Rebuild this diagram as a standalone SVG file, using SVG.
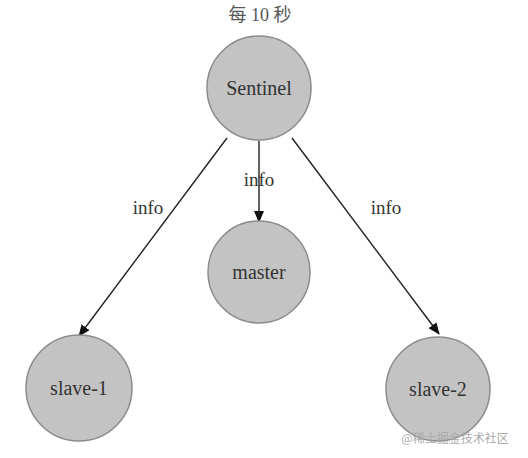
<svg xmlns="http://www.w3.org/2000/svg" width="528" height="458" viewBox="0 0 528 458">
<style>
.n{fill:#c3c3c3;stroke:#8c8c8c;stroke-width:1.5}
.t{font-family:"Liberation Serif",serif;font-size:20px;fill:#333;text-anchor:middle}
.e{stroke:#222;stroke-width:1.4;fill:none;marker-end:url(#a)}
.l{font-family:"Liberation Serif",serif;font-size:19px;fill:#333;text-anchor:middle}
</style>
<defs>
<marker id="a" markerWidth="12" markerHeight="10" refX="11" refY="5" orient="auto" markerUnits="userSpaceOnUse">
<path d="M0,0 L12,5 L0,10 Z" fill="#111"/>
</marker>
</defs>
<rect width="528" height="458" fill="#fff"/>
<text x="260" y="21" font-family="'Liberation Serif','Noto Sans CJK SC',serif" font-size="18" fill="#555" text-anchor="middle">每 10 秒</text>
<g id="connectors">
<line class="e" x1="227" y1="138" x2="79" y2="336"/>
<line class="e" x1="259" y1="141" x2="259" y2="222"/>
<line class="e" x1="292" y1="138" x2="439" y2="334"/>
<text class="l" x="148" y="214">info</text>
<text class="l" x="259" y="186">info</text>
<text class="l" x="386" y="214">info</text>
</g>
<g id="sentinel"><circle class="n" cx="259" cy="88" r="52"/><text class="t" x="259" y="95">Sentinel</text></g>
<g id="master"><circle class="n" cx="259" cy="272" r="51"/><text class="t" x="259" y="279">master</text></g>
<g id="slave-1"><circle class="n" cx="79" cy="388" r="53"/><text class="t" x="79" y="395">slave-1</text></g>
<g id="slave-2"><circle class="n" cx="438" cy="389" r="52"/><text class="t" x="438" y="396">slave-2</text></g>
<text x="455" y="443" font-family="'Noto Sans CJK SC',sans-serif" font-size="12" fill="#aaa" text-anchor="middle">@稀土掘金技术社区</text>
</svg>
